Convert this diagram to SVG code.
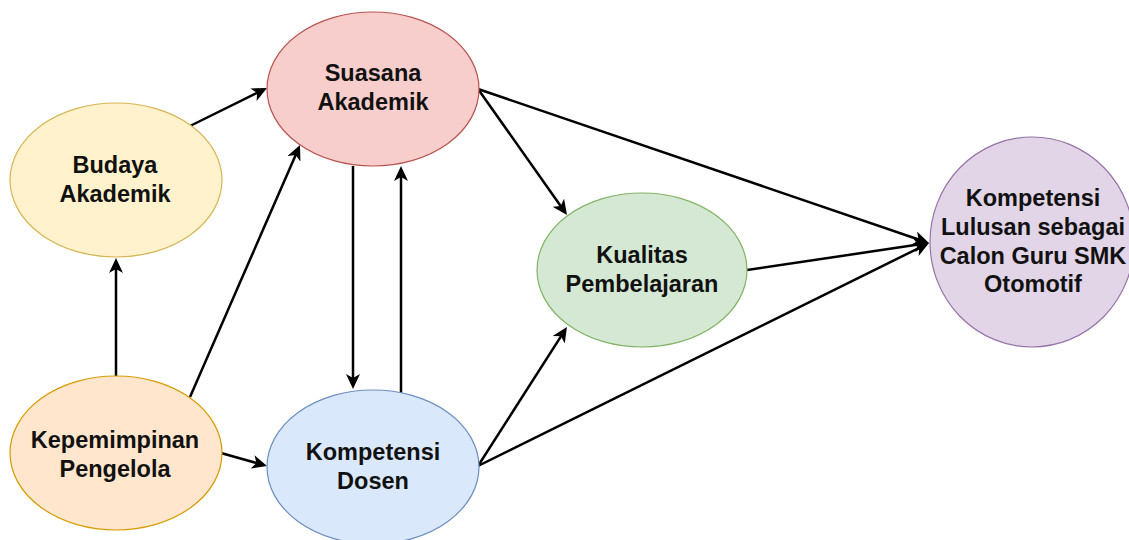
<svg xmlns="http://www.w3.org/2000/svg" width="1129" height="540" viewBox="0 0 1129 540">
<style>
.lbl{font-family:"Liberation Sans",Arial,Helvetica,sans-serif;font-weight:bold;font-size:23.5px;fill:#111;text-anchor:middle}
.edge{stroke:#000;stroke-width:2.5;fill:none;marker-end:url(#arr)}
.n{stroke-width:1.2}
</style>
<defs>
<marker id="arr" viewBox="0 0 15 14" markerWidth="15" markerHeight="14" markerUnits="userSpaceOnUse" refX="11" refY="7" orient="auto">
<path d="M0,0 L15,7 L0,14 L4,7 Z" fill="#000"/>
</marker>
</defs>
<rect width="1129" height="540" fill="#fff"/>
<g id="connectors">
<line class="edge" x1="190" y1="126" x2="263.4" y2="89.8"/>
<line class="edge" x1="116" y1="376" x2="116" y2="262"/>
<line class="edge" x1="190" y1="397" x2="298.4" y2="148.7"/>
<line class="edge" x1="221" y1="453" x2="263.2" y2="464.9"/>
<line class="edge" x1="353" y1="166" x2="353" y2="385"/>
<line class="edge" x1="401" y1="393" x2="401" y2="170"/>
<line class="edge" x1="478" y1="89" x2="564.7" y2="211.7"/>
<line class="edge" x1="478" y1="89" x2="925.2" y2="241.7"/>
<line class="edge" x1="747" y1="270" x2="925" y2="243.6"/>
<line class="edge" x1="478" y1="466" x2="564.8" y2="330.4"/>
<line class="edge" x1="478" y1="466" x2="925.4" y2="244.8"/>
</g>
<g id="suasana">
<ellipse class="n" cx="373" cy="89" rx="106" ry="77" fill="#f8cecc" stroke="#b85450"/>
<text class="lbl" x="373" y="81">Suasana</text>
<text class="lbl" x="373" y="110">Akademik</text>
</g>
<g id="budaya">
<ellipse class="n" cx="116" cy="180" rx="106" ry="77" fill="#fff2cc" stroke="#d6b656"/>
<text class="lbl" x="115" y="173">Budaya</text>
<text class="lbl" x="115" y="202">Akademik</text>
</g>
<g id="kepemimpinan">
<ellipse class="n" cx="116" cy="453" rx="106" ry="77" fill="#ffe6cc" stroke="#d79b00"/>
<text class="lbl" x="115" y="448">Kepemimpinan</text>
<text class="lbl" x="115" y="477">Pengelola</text>
</g>
<g id="dosen">
<ellipse class="n" cx="373" cy="467" rx="106" ry="77" fill="#dae8fc" stroke="#6c8ebf"/>
<text class="lbl" x="373" y="460">Kompetensi</text>
<text class="lbl" x="373" y="489">Dosen</text>
</g>
<g id="kualitas">
<ellipse class="n" cx="642" cy="270" rx="105" ry="77" fill="#d5e8d4" stroke="#82b366"/>
<text class="lbl" x="642" y="263">Kualitas</text>
<text class="lbl" x="642" y="292">Pembelajaran</text>
</g>
<g id="lulusan">
<ellipse class="n" cx="1032" cy="242" rx="102" ry="105" fill="#e1d5e7" stroke="#9673a6"/>
<text class="lbl" x="1033" y="206">Kompetensi</text>
<text class="lbl" x="1033" y="235">Lulusan sebagai</text>
<text class="lbl" x="1033" y="264">Calon Guru SMK</text>
<text class="lbl" x="1033" y="292">Otomotif</text>
</g>
</svg>
